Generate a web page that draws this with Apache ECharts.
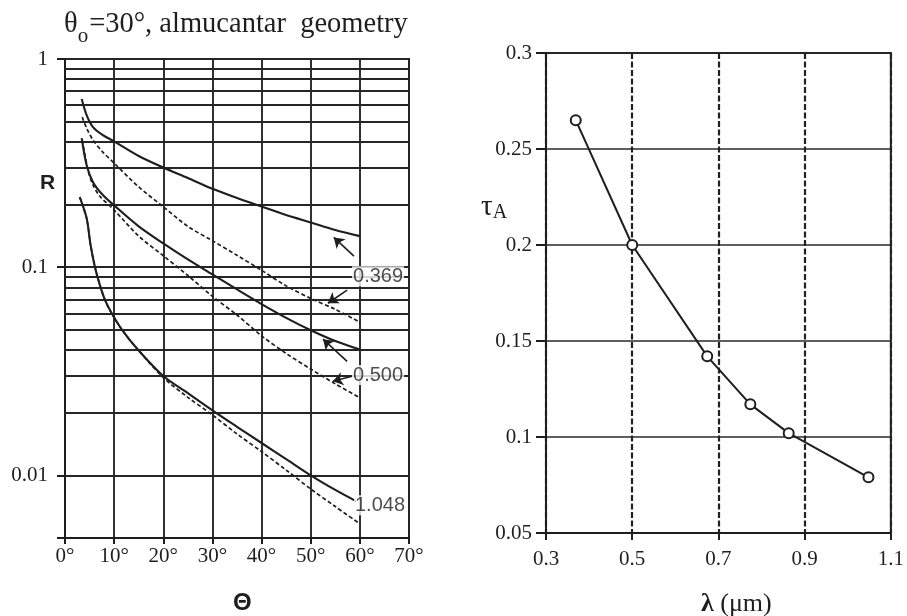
<!DOCTYPE html>
<html>
<head>
<meta charset="utf-8">
<script src="https://cdn.jsdelivr.net/npm/echarts@6/dist/echarts.min.js"></script>
<style>
  html, body { margin: 0; padding: 0; background: #ffffff; }
  #chart { width: 907px; height: 616px; }
</style>
</head>
<body>
<div id="chart"></div>
<script>
// Left panel: sky radiance R versus scattering angle Θ (θo = 30°, almucantar)
// Solid = measured, dashed = computed, for three wavelengths (µm)
const thetaSolid369 = [3.4, 4.4, 5.7, 7.7, 10, 15, 20, 25, 30, 35, 40, 45, 50, 55, 60];
const rSolid369     = [0.643, 0.538, 0.471, 0.431, 0.402, 0.342, 0.301, 0.268, 0.238, 0.215, 0.1955, 0.178, 0.164, 0.151, 0.141];

const thetaDash369  = [3.5, 4.4, 5.7, 7.7, 10, 15, 20, 25, 30, 35, 40, 45, 50, 55, 60];
const rDash369      = [0.526, 0.466, 0.408, 0.357, 0.316, 0.243, 0.195, 0.157, 0.134, 0.114, 0.0966, 0.0813, 0.0708, 0.0627, 0.0544];

const thetaSolid500 = [3.4, 4.4, 5.7, 7.7, 10, 15, 20, 25, 30, 35, 40, 45, 50, 55, 60];
const rSolid500     = [0.417, 0.309, 0.256, 0.222, 0.198, 0.157, 0.130, 0.1089, 0.0923, 0.0782, 0.0665, 0.0571, 0.0498, 0.0442, 0.0402];

const thetaDash500  = [3.5, 4.7, 5.7, 7.1, 10, 15, 20, 25, 30, 35, 40, 45, 50, 55, 60];
const rDash500      = [0.408, 0.292, 0.248, 0.219, 0.188, 0.141, 0.1135, 0.0912, 0.0724, 0.0589, 0.0468, 0.0385, 0.0324, 0.0275, 0.0236];

const thetaSolid1048 = [3.0, 4.4, 5.2, 6.1, 7.1, 8.2, 9.5, 11.6, 14.9, 20, 25, 30, 35, 40, 45, 50, 55, 59.3];
const rSolid1048     = [0.217, 0.172, 0.128, 0.100, 0.082, 0.069, 0.060, 0.050, 0.040, 0.030, 0.0248, 0.0205, 0.0171, 0.0143, 0.01197, 0.0100, 0.00851, 0.0075];

const thetaDash1048  = [3.0, 4.4, 5.2, 6.1, 7.1, 8.2, 9.5, 11.6, 14.9, 20, 25, 30, 35, 40, 45, 50, 55, 59.6];
const rDash1048      = [0.217, 0.172, 0.128, 0.100, 0.082, 0.069, 0.060, 0.050, 0.040, 0.0295, 0.0237, 0.0195, 0.0158, 0.0130, 0.0106, 0.0086, 0.00708, 0.00594];

// Log-axis grid values between the labelled decades
const rMinorGrid = [0.006, 0.007, 0.008, 0.009,
                    0.02, 0.03, 0.04, 0.05, 0.06, 0.07, 0.08, 0.09,
                    0.2, 0.3, 0.4, 0.5, 0.6, 0.7, 0.8, 0.9];
const rTickLabels = [1, 0.1, 0.01];

// Wavelength tags and their pointer arrows, in (Θ, R) units
const tagText  = ['0.369', '0.500', '1.048'];
const tagTheta = [63.7, 63.7, 64.1];
const tagR     = [0.0905, 0.0303, 0.00718];
const arrowTail = [[58.8, 0.113], [57.4, 0.0775], [57.4, 0.0353], [58.4, 0.0299]];
const arrowHead = [[54.7, 0.139], [53.5, 0.0671], [52.5, 0.0451], [54.5, 0.0283]];

// Right panel: aerosol optical thickness τA versus wavelength λ (µm)
const lambdaUm = [0.369, 0.500, 0.674, 0.774, 0.863, 1.048];
const tauA     = [0.265, 0.200, 0.142, 0.117, 0.102, 0.079];

const SERIF = "'Liberation Serif', 'DejaVu Serif', serif";
const SANS  = "'Liberation Sans', 'DejaVu Sans', sans-serif";
const INK = '#1e1e1e';

const pairs = (xs, ys) => xs.map((x, i) => [x, ys[i]]);

function curve(name, xs, ys, dashed) {
  return {
    name: name,
    type: 'line',
    xAxisIndex: 0,
    yAxisIndex: 0,
    data: pairs(xs, ys),
    smooth: 0.3,
    symbol: 'none',
    silent: true,
    z: 5,
    lineStyle: {
      color: INK,
      width: dashed ? 1.7 : 2.1,
      type: dashed ? [4, 2.5] : 'solid'
    }
  };
}

const chart = echarts.init(document.getElementById('chart'), null, { renderer: 'canvas' });

chart.setOption({
  animation: false,
  backgroundColor: '#ffffff',
  title: [
    {
      text: '{a|θ}{b|o}{a|=30°, almucantar  geometry}',
      left: 59, top: 5,
      textStyle: {
        fontWeight: 'normal',
        rich: {
          a: { fontFamily: SERIF, fontSize: 28.5, fontWeight: 'normal', color: INK, lineHeight: 31, verticalAlign: 'top' },
          b: { fontFamily: SERIF, fontSize: 21, fontWeight: 'normal', color: INK, lineHeight: 31, verticalAlign: 'top', padding: [16, 1, 0, 0] }
        }
      }
    },
    {
      text: 'R', left: 35, top: 168,
      textStyle: { fontFamily: SANS, fontSize: 21, fontWeight: 'bold', color: INK }
    },
    {
      text: 'Θ', left: 228, top: 586,
      textStyle: { fontFamily: SANS, fontSize: 24, fontWeight: 'bold', color: INK }
    },
    {
      text: '{a|τ}{b|A}', left: 476, top: 188,
      textStyle: {
        fontWeight: 'normal',
        rich: {
          a: { fontFamily: SERIF, fontSize: 29, fontWeight: 'normal', color: INK, lineHeight: 28, verticalAlign: 'top' },
          b: { fontFamily: SERIF, fontSize: 20, fontWeight: 'normal', color: INK, lineHeight: 28, verticalAlign: 'top', padding: [10, 0, 0, 0] }
        }
      }
    },
    {
      text: '{l|λ}{a| (μm)}', left: 696, top: 586,
      textStyle: {
        fontWeight: 'normal',
        rich: {
          l: { fontFamily: SERIF, fontSize: 26, fontWeight: 'bold', color: INK },
          a: { fontFamily: SERIF, fontSize: 26, fontWeight: 'normal', color: INK }
        }
      }
    }
  ],
  grid: [
    { left: 65, top: 59, width: 344, height: 479, show: true, borderColor: INK, borderWidth: 2, backgroundColor: 'transparent' },
    { left: 546, top: 53, width: 347, height: 480, show: true, borderColor: INK, borderWidth: 2, backgroundColor: 'transparent' }
  ],
  xAxis: [
    {
      gridIndex: 0, type: 'value', min: 0, max: 70, interval: 10,
      axisLine: { show: true, lineStyle: { color: INK, width: 2 } },
      axisTick: { show: true, inside: false, length: 6, lineStyle: { color: INK, width: 2 } },
      axisLabel: { margin: 8, color: INK, fontFamily: SERIF, fontSize: 21, formatter: v => v + '°' },
      splitLine: { show: true, lineStyle: { color: '#262626', width: 1.9 } }
    },
    {
      gridIndex: 1, type: 'value', min: 0.3, max: 1.1, interval: 0.2,
      axisLine: { show: true, lineStyle: { color: INK, width: 2 } },
      axisTick: { show: true, inside: false, length: 7, lineStyle: { color: INK, width: 2 } },
      axisLabel: { margin: 16, color: INK, fontFamily: SERIF, fontSize: 21, formatter: v => v.toFixed(1) },
      splitLine: { show: true, lineStyle: { color: '#222222', width: 2.2, type: [6, 2.5] } }
    }
  ],
  yAxis: [
    {
      gridIndex: 0, type: 'log', logBase: 10, min: 0.005, max: 1,
      axisLine: { show: true, lineStyle: { color: INK, width: 2 } },
      axisTick: { show: true, inside: false, length: 8, lineStyle: { color: INK, width: 2 } },
      axisLabel: {
        margin: 17, color: INK, fontFamily: SERIF, fontSize: 21,
        formatter: v => {
          const hit = rTickLabels.find(t => Math.abs(t - v) / t < 1e-6);
          return hit === undefined ? '' : String(hit);
        }
      },
      splitLine: { show: true, lineStyle: { color: '#262626', width: 1.9 } }
    },
    {
      gridIndex: 1, type: 'value', min: 0.05, max: 0.3, interval: 0.05,
      axisLine: { show: true, lineStyle: { color: INK, width: 2 } },
      axisTick: { show: true, inside: false, length: 10, lineStyle: { color: INK, width: 2 } },
      axisLabel: { margin: 14, color: INK, fontFamily: SERIF, fontSize: 21 },
      splitLine: { show: true, lineStyle: { color: '#2a2a2a', width: 1.7 } }
    }
  ],
  series: [
    {
      // horizontal rules at 2..9 × each decade of R
      name: 'minor grid',
      type: 'line', xAxisIndex: 0, yAxisIndex: 0,
      data: [[0, 1]], symbol: 'none', silent: true, z: 2,
      lineStyle: { width: 0 },
      markLine: {
        silent: true, symbol: 'none', animation: false,
        label: { show: false },
        lineStyle: { color: '#262626', width: 1.9, type: 'solid' },
        data: rMinorGrid.map(v => ({ yAxis: v }))
      }
    },
    curve('0.369 solid', thetaSolid369, rSolid369, false),
    curve('0.369 dashed', thetaDash369, rDash369, true),
    curve('0.500 solid', thetaSolid500, rSolid500, false),
    curve('0.500 dashed', thetaDash500, rDash500, true),
    curve('1.048 solid', thetaSolid1048, rSolid1048, false),
    curve('1.048 dashed', thetaDash1048, rDash1048, true),
    {
      name: 'pointers',
      type: 'line', xAxisIndex: 0, yAxisIndex: 0,
      data: [[0, 1]], symbol: 'none', silent: true, z: 6,
      lineStyle: { width: 0 },
      markLine: {
        silent: true, animation: false,
        symbol: ['none', 'arrow'], symbolSize: 10,
        label: { show: false },
        itemStyle: { color: INK },
        lineStyle: { color: INK, width: 1.6, type: 'solid' },
        data: arrowTail.map((t, i) => [{ coord: t }, { coord: arrowHead[i] }])
      }
    },
    {
      name: 'tags',
      type: 'scatter', xAxisIndex: 0, yAxisIndex: 0,
      data: tagTheta.map((t, i) => [t, tagR[i], tagText[i]]),
      symbolSize: 1, silent: true, z: 8,
      itemStyle: { color: 'transparent' },
      label: {
        show: true, position: 'inside',
        formatter: p => p.data[2],
        color: INK, fontFamily: SANS, fontSize: 20,
        backgroundColor: '#ffffff', padding: [0, 1]
      }
    },
    {
      name: 'τA',
      type: 'line', xAxisIndex: 1, yAxisIndex: 1,
      data: pairs(lambdaUm, tauA),
      symbol: 'circle', symbolSize: 10, showAllSymbol: true,
      silent: true, z: 5,
      lineStyle: { color: INK, width: 2 },
      itemStyle: { color: '#ffffff', borderColor: INK, borderWidth: 2 }
    }
  ]
});
</script>
</body>
</html>
